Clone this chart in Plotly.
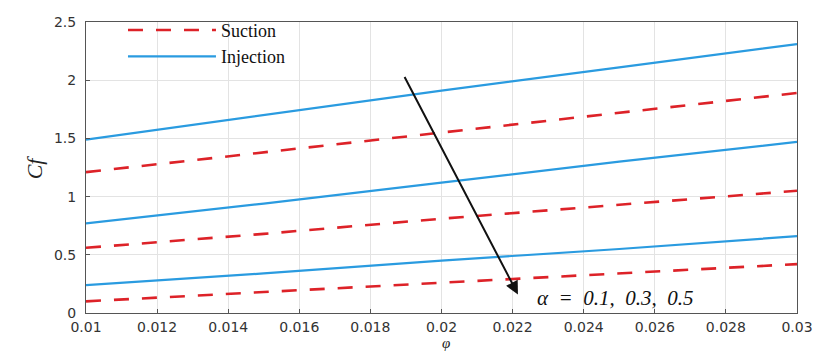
import plotly.graph_objects as go

phi = [0.010, 0.015, 0.020, 0.025, 0.030]

# Injection curves for alpha = 0.1, 0.3, 0.5
inj_a01 = [1.49, 1.70, 1.91, 2.11, 2.31]
inj_a03 = [0.77, 0.94, 1.12, 1.30, 1.47]
inj_a05 = [0.24, 0.34, 0.45, 0.55, 0.66]

# Suction curves for alpha = 0.1, 0.3, 0.5
suc_a01 = [1.21, 1.38, 1.55, 1.72, 1.89]
suc_a03 = [0.56, 0.68, 0.81, 0.93, 1.05]
suc_a05 = [0.10, 0.18, 0.26, 0.34, 0.42]

x_ticks = [0.01, 0.012, 0.014, 0.016, 0.018, 0.02, 0.022, 0.024, 0.026, 0.028, 0.03]
x_ticklabels = ["0.01", "0.012", "0.014", "0.016", "0.018", "0.02", "0.022", "0.024", "0.026", "0.028", "0.03"]
y_ticks = [0, 0.5, 1, 1.5, 2, 2.5]
y_ticklabels = ["0", "0.5", "1", "1.5", "2", "2.5"]

RED = "#dd2228"
BLUE = "#2a9be0"
SERIF = "Liberation Serif"

fig = go.Figure()
suc = [suc_a01, suc_a03, suc_a05]
inj = [inj_a01, inj_a03, inj_a05]
for i, s in enumerate(suc):
    fig.add_trace(go.Scatter(x=phi, y=s, mode="lines", name="Suction",
                             line=dict(color=RED, width=2.6, dash="15px,13px"),
                             showlegend=(i == 0), legendrank=1))
for i, s in enumerate(inj):
    fig.add_trace(go.Scatter(x=phi, y=s, mode="lines", name="Injection",
                             line=dict(color=BLUE, width=2.2),
                             showlegend=(i == 0), legendrank=2))

axis_common = dict(showline=True, linecolor="#555", linewidth=1, mirror=True,
                   ticks="inside", ticklen=4, tickcolor="#555", automargin=False,
                   showgrid=True, gridcolor="#e3e3e3", gridwidth=1, zeroline=False,
                   tickfont=dict(family="DejaVu Sans", size=14, color="#333"))

fig.update_xaxes(range=[0.01, 0.03], tickvals=x_ticks, ticktext=x_ticklabels,
                 ticklabelstandoff=1, **axis_common)
fig.update_yaxes(range=[0, 2.5], tickvals=y_ticks, ticktext=y_ticklabels,
                 ticklabelstandoff=6, **axis_common)

fig.add_annotation(x=0.02215, y=0.16, ax=0.01894, ay=2.04, xref="x", yref="y",
                   axref="x", ayref="y", showarrow=True, arrowhead=2, arrowsize=1.3,
                   arrowwidth=2, arrowcolor="#111", text="")
fig.add_annotation(x=0.02263, y=0.13, xref="x", yref="y", xanchor="left", yanchor="middle",
                   showarrow=False,
                   text="<i>α\u00a0\u00a0=\u00a0\u00a00.1,\u00a0\u00a00.3,\u00a0\u00a00.5</i>",
                   font=dict(family=SERIF, size=21, color="#111"))

fig.add_annotation(x=-0.072, y=0.5, xref="paper", yref="paper", textangle=-90,
                   xanchor="center", yanchor="middle",
                   showarrow=False, text="<i>Cf</i>",
                   font=dict(family=SERIF, size=22, color="#222"))
fig.add_annotation(x=0.506, y=-0.103, xref="paper", yref="paper", yanchor="middle",
                   showarrow=False, text="<i>φ</i>", borderpad=0,
                   font=dict(family=SERIF, size=15, color="#222"))

fig.update_layout(
    width=814, height=351,
    margin=dict(l=86, r=17, t=18, b=38),
    paper_bgcolor="white", plot_bgcolor="white",
    legend=dict(x=0.052, y=1.035, xanchor="left", yanchor="top", bgcolor="rgba(255,255,255,0)",
                itemwidth=88, tracegroupgap=0,
                font=dict(family=SERIF, size=18, color="#111")),
    showlegend=True,
)

fig.write_html("out.html")
